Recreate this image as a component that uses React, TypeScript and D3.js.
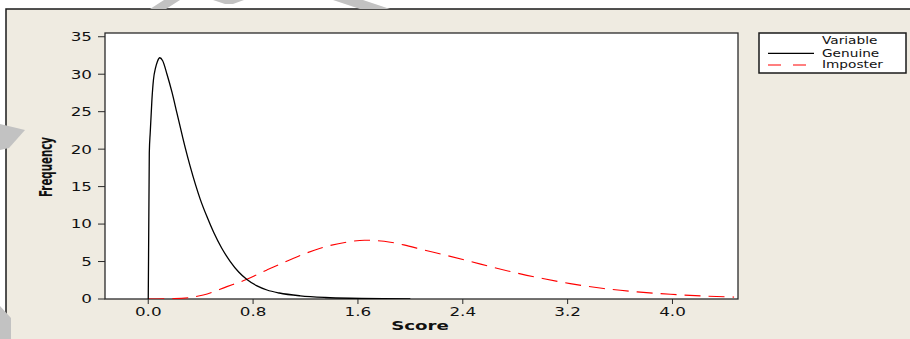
import React from "react";
import * as d3 from "d3";

// Density curves of match scores
const genuineX = [0, 0.008, 0.015, 0.028, 0.04, 0.055, 0.07, 0.088, 0.11, 0.143, 0.181, 0.219, 0.257, 0.282, 0.32, 0.36, 0.397, 0.45, 0.499, 0.56, 0.626, 0.69, 0.753, 0.83, 0.906, 1.0, 1.16, 1.35, 1.54, 2.0];
const genuineY = [0, 19.5, 22.2, 26.6, 29.3, 30.8, 31.7, 32.2, 31.8, 30.0, 27.6, 24.8, 22.0, 20.2, 17.7, 15.3, 13.3, 10.9, 8.9, 6.8, 5.0, 3.6, 2.6, 1.75, 1.2, 0.8, 0.42, 0.2, 0.1, 0.02];

const imposterX = [0, 0.2, 0.42, 0.6, 0.753, 0.906, 1.109, 1.313, 1.54, 1.65, 1.8, 1.95, 2.1, 2.28, 2.46, 2.66, 2.84, 3.02, 3.22, 3.475, 3.73, 3.985, 4.24, 4.47];
const imposterY = [0, 0.05, 0.53, 1.65, 2.63, 3.88, 5.44, 6.78, 7.66, 7.85, 7.7, 7.22, 6.55, 5.8, 5.0, 4.1, 3.35, 2.7, 2.05, 1.4, 0.95, 0.63, 0.4, 0.25];

const xTicks = [0.0, 0.8, 1.6, 2.4, 3.2, 4.0];
const yTicks = [0, 5, 10, 15, 20, 25, 30, 35];

const seriesNames = ["Genuine", "Imposter"];
const legendTitle = "Variable";
const xTitle = "Score";
const yTitle = "Frequency";

const W = 910;
const H = 339;
const plot = { left: 105, right: 738, top: 33, bottom: 299 };
const FONT = "'DejaVu Sans', Verdana, sans-serif";
const SX = 1.4;

export default function App() {
  const x = d3.scaleLinear().domain([-0.33, 4.5]).range([plot.left, plot.right]);
  const y = d3.scaleLinear().domain([0, 35.5]).range([plot.bottom, plot.top]);

  const line = d3
    .line<[number, number]>()
    .x((d) => x(d[0]))
    .y((d) => y(d[1]))
    .curve(d3.curveMonotoneX);

  const genuine = genuineX.map((v, i) => [v, genuineY[i]] as [number, number]);
  const imposter = imposterX.map((v, i) => [v, imposterY[i]] as [number, number]);

  return (
    <svg
      width={W}
      height={H}
      style={{ position: "absolute", left: 0, top: 0, display: "block" }}
      fontFamily={FONT}
    >
      <rect x={0} y={0} width={W} height={H} fill="#ffffff" />
      {/* outer panel */}
      <rect x={6} y={9} width={W} height={H} fill="#EFEBE1" stroke="#1a1a1a" strokeWidth={1.5} />

      <defs>
        <clipPath id="plotClip">
          <rect x={plot.left} y={plot.top - 2} width={plot.right - plot.left} height={plot.bottom - plot.top + 2} />
        </clipPath>
      </defs>

      {/* plot area */}
      <rect
        x={plot.left}
        y={plot.top}
        width={plot.right - plot.left}
        height={plot.bottom - plot.top}
        fill="#ffffff"
        stroke="#2a2a2a"
        strokeWidth={1.3}
      />

      {/* y axis ticks */}
      {yTicks.map((t) => (
        <g key={"y" + t}>
          <line x1={plot.left - 7} x2={plot.left} y1={y(t)} y2={y(t)} stroke="#2a2a2a" strokeWidth={1} />
          <text
            transform={`translate(${plot.left - 13},${y(t) + 4.4}) scale(${SX},1)`}
            textAnchor="end"
            fontSize={12}
            fill="#111"
          >
            {t}
          </text>
        </g>
      ))}

      {/* x axis ticks */}
      {xTicks.map((t) => (
        <g key={"x" + t}>
          <line x1={x(t)} x2={x(t)} y1={plot.bottom} y2={plot.bottom + 5} stroke="#2a2a2a" strokeWidth={1} />
          <text
            transform={`translate(${x(t)},${plot.bottom + 16.5}) scale(${SX},1)`}
            textAnchor="middle"
            fontSize={12}
            fill="#111"
          >
            {t.toFixed(1)}
          </text>
        </g>
      ))}

      {/* curves */}
      <g clipPath="url(#plotClip)">
        <path d={line(imposter) ?? ""} fill="none" stroke="#ff0000" strokeWidth={1.1} strokeDasharray="16,8" />
        <path d={line(genuine) ?? ""} fill="none" stroke="#000000" strokeWidth={1.3} />
      </g>

      {/* axis titles */}
      <text
        transform={`translate(420,329.5) scale(${SX},1)`}
        textAnchor="middle"
        fontSize={13}
        fontWeight="bold"
        fill="#111"
      >
        {xTitle}
      </text>
      <text
        transform="translate(51.5,167) rotate(-90) scale(1,1.4)"
        textAnchor="middle"
        fontSize={13}
        fontWeight="bold"
        textLength={60}
        lengthAdjust="spacingAndGlyphs"
        fill="#111"
      >
        {yTitle}
      </text>

      {/* legend */}
      <rect x={759} y={33} width={147} height={40} fill="#ffffff" stroke="#1a1a1a" strokeWidth={1.5} />
      <text transform={`translate(822,44) scale(1.37,1)`} fontSize={10} fill="#111">
        {legendTitle}
      </text>
      <line x1={768} x2={814} y1={53.3} y2={53.3} stroke="#000" strokeWidth={1.2} />
      <text transform={`translate(822,56.5) scale(1.37,1)`} fontSize={10} fill="#111">
        {seriesNames[0]}
      </text>
      <line x1={768} x2={809} y1={65} y2={65} stroke="#ff0000" strokeWidth={1.1} strokeDasharray="13,12" />
      <text transform={`translate(822,68.3) scale(1.37,1)`} fontSize={10} fill="#111">
        {seriesNames[1]}
      </text>

      {/* page marks around the panel */}
      <g fill="#c2c2c2">
        <polygon points="150,9 166,9 180,0 164,0" />
        <polygon points="213,0 244,0 233,4 225,4" />
        <polygon points="333,0 363,0 390,9 360,9" />
        <polygon points="0,124 25,130 9,148 0,150" />
        <polygon points="0,306 11,318 11,339 0,339" />
      </g>
    </svg>
  );
}
